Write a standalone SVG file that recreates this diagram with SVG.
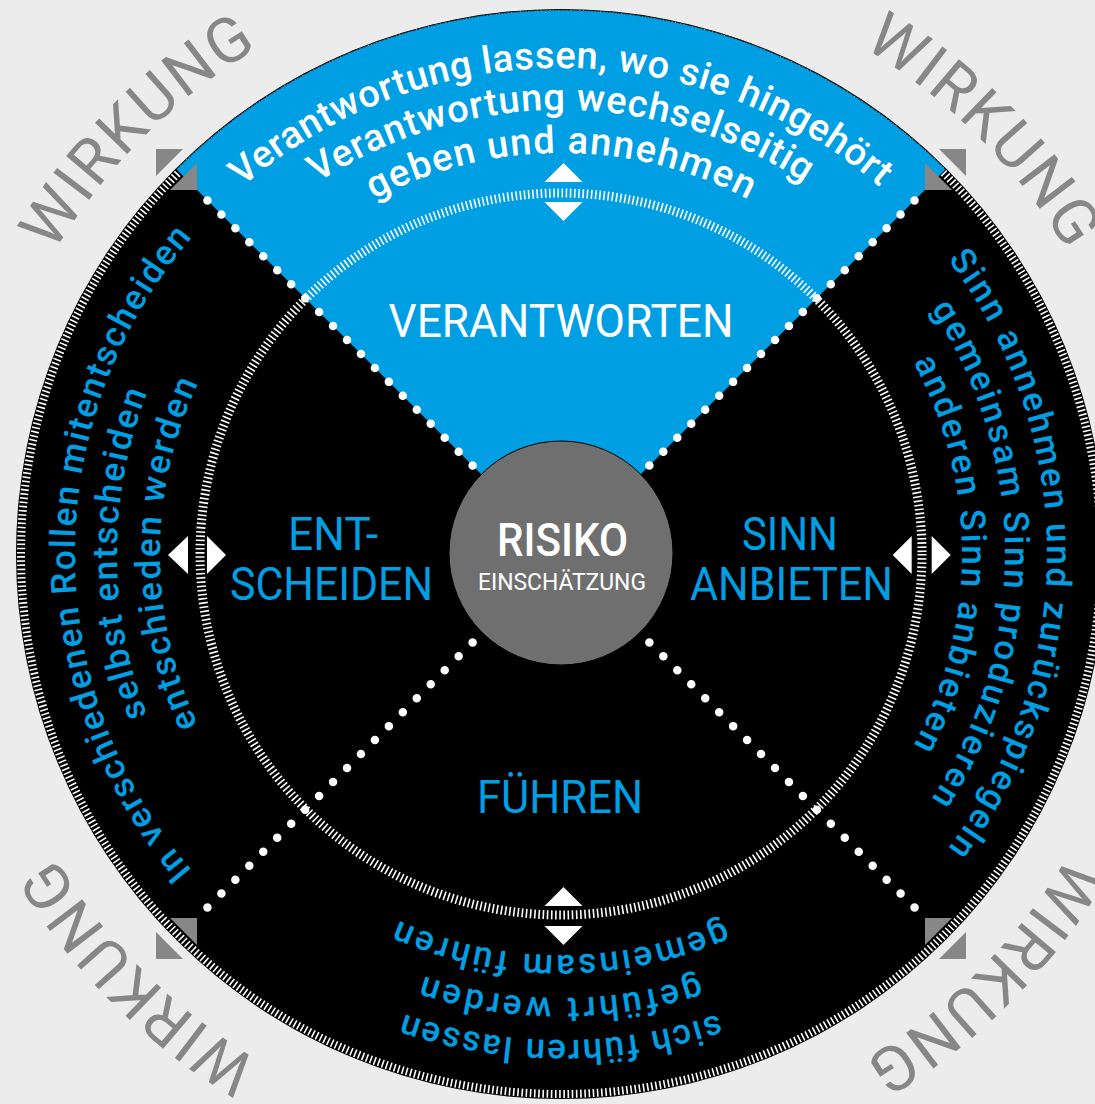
<svg xmlns="http://www.w3.org/2000/svg" width="1095" height="1104" viewBox="0 0 1095 1104">
<style>
.ct{font-family:Roboto,"Noto Sans",sans-serif;text-anchor:middle;font-weight:500}
.w{fill:#ffffff}
.b{fill:#009fe3}
.lbl{font-family:Roboto,"Noto Sans",sans-serif;text-anchor:middle;font-size:46px}
.wirk{font-family:Roboto,"Noto Sans",sans-serif;text-anchor:middle;font-size:63px;fill:#878787;letter-spacing:2px}
.tri{fill:#ffffff}
</style>
<defs>
<path id="r590" d="M561,1144 A590,590 0 1 1 561,-36 A590,590 0 1 1 561,1144"/>
<path id="r486" d="M561,1040 A486,486 0 1 1 561,68 A486,486 0 1 1 561,1040"/>
<path id="r444" d="M561,998 A444,444 0 1 1 561,110 A444,444 0 1 1 561,998"/>
<path id="r401" d="M561,955 A401,401 0 1 1 561,153 A401,401 0 1 1 561,955"/>
<path id="corner" d="M-405,-405 h27 l-27,27 z M-364,-364 v-27 l-27,27 z" fill="#878787"/>
</defs>
<rect width="1095" height="1104" fill="#ececec"/>
<g id="disc">
<circle cx="561" cy="554" r="545" fill="#000"/>
<circle cx="561" cy="554" r="540" fill="none" stroke="#fff" stroke-width="8" stroke-dasharray="1.6 2.6"/>
<path d="M561,554 L176.33,169.33 A544,544 0 0 1 945.67,169.33 Z" fill="#009fe3"/>
<path d="M176.33,169.33 A544,544 0 0 1 945.67,169.33" fill="none" stroke="#1a1a1a" stroke-width="1.2" stroke-dasharray="1.5 1.5"/>
<circle cx="561" cy="554" r="361" fill="none" stroke="#fff" stroke-width="9" stroke-dasharray="1.6 2.6"/>
</g>
<g id="connectors" stroke="#fff" stroke-width="8.5" stroke-linecap="round" stroke-dasharray="0 19.737" fill="none">
<line x1="472.61" y1="465.61" x2="206.9" y2="199.9"/>
<line x1="649.39" y1="465.61" x2="915.1" y2="199.9"/>
<line x1="472.61" y1="642.39" x2="206.9" y2="908.1"/>
<line x1="649.39" y1="642.39" x2="915.1" y2="908.1"/>
</g>
<g id="corners">
<use href="#corner" transform="translate(561 554)"/>
<use href="#corner" transform="translate(561 554) rotate(90)"/>
<use href="#corner" transform="translate(561 554) rotate(180)"/>
<use href="#corner" transform="translate(561 554) rotate(270)"/>
</g>
<g id="arrows" class="tri">
<polygon points="563.5,163 582.5,182 544.5,182"/>
<polygon points="544.5,202 582.5,202 563.5,221"/>
<polygon points="563.5,887 582.5,906 544.5,906"/>
<polygon points="544.5,926 582.5,926 563.5,945"/>
<polygon points="168,555 188,536 188,574"/>
<polygon points="207,536 226,555 207,574"/>
<polygon points="892.7,555 911.7,536 911.7,574"/>
<polygon points="931.7,536 950.7,555 931.7,574"/>
</g>
<g id="wirkung">
<text class="wirk" transform="rotate(-45 561 554)"><textPath href="#r590" startOffset="50%">WIRKUNG</textPath></text>
<text class="wirk" transform="rotate(45 561 554)"><textPath href="#r590" startOffset="50%">WIRKUNG</textPath></text>
<text class="wirk" transform="rotate(135 561 554)"><textPath href="#r590" startOffset="50%">WIRKUNG</textPath></text>
<text class="wirk" transform="rotate(225 561 554)"><textPath href="#r590" startOffset="50%">WIRKUNG</textPath></text>
</g>
<g id="node-verantworten">
<text class="ct w" font-size="38"><textPath href="#r486" startOffset="50%" textLength="695" lengthAdjust="spacing">Verantwortung lassen, wo sie hingehört</textPath></text>
<text class="ct w" font-size="38"><textPath href="#r444" startOffset="50%" textLength="515" lengthAdjust="spacing">Verantwortung wechselseitig</textPath></text>
<text class="ct w" font-size="38"><textPath href="#r401" startOffset="50%" textLength="390" lengthAdjust="spacing">geben und annehmen</textPath></text>
<text class="lbl w" x="561" y="337" textLength="345" lengthAdjust="spacingAndGlyphs">VERANTWORTEN</text>
</g>
<g id="node-entscheiden">
<g transform="rotate(-90 561 554)">
<text class="ct b" font-size="35"><textPath href="#r486" startOffset="50%" textLength="690" lengthAdjust="spacing">In verschiedenen Rollen mitentscheiden</textPath></text>
<text class="ct b" font-size="35"><textPath href="#r444" startOffset="50%" textLength="330" lengthAdjust="spacing">selbst entscheiden</textPath></text>
<text class="ct b" font-size="35"><textPath href="#r401" startOffset="50%" textLength="353" lengthAdjust="spacing">entschieden werden</textPath></text>
</g>
<text class="lbl b" x="333" y="550" textLength="90" lengthAdjust="spacingAndGlyphs">ENT-</text>
<text class="lbl b" x="331.5" y="600" textLength="203" lengthAdjust="spacingAndGlyphs">SCHEIDEN</text>
</g>
<g id="node-sinn">
<g transform="rotate(90 561 554)">
<text class="ct b" font-size="35"><textPath href="#r486" startOffset="50%" textLength="633" lengthAdjust="spacing">Sinn annehmen und zurückspiegeln</textPath></text>
<text class="ct b" font-size="35"><textPath href="#r444" startOffset="50%" textLength="520" lengthAdjust="spacing">gemeinsam Sinn produzieren</textPath></text>
<text class="ct b" font-size="35"><textPath href="#r401" startOffset="50%" textLength="400" lengthAdjust="spacing">anderen Sinn anbieten</textPath></text>
</g>
<text class="lbl b" x="790" y="550" textLength="96" lengthAdjust="spacingAndGlyphs">SINN</text>
<text class="lbl b" x="791.5" y="600" textLength="203" lengthAdjust="spacingAndGlyphs">ANBIETEN</text>
</g>
<g id="node-fuehren">
<g transform="rotate(180 561 554)">
<text class="ct b" font-size="35"><textPath href="#r486" startOffset="50%" textLength="320" lengthAdjust="spacing">sich führen lassen</textPath></text>
<text class="ct b" font-size="35"><textPath href="#r444" startOffset="50%" textLength="280" lengthAdjust="spacing">geführt werden</textPath></text>
<text class="ct b" font-size="35"><textPath href="#r401" startOffset="50%" textLength="335" lengthAdjust="spacing">gemeinsam führen</textPath></text>
</g>
<text class="lbl b" x="560" y="813" textLength="166" lengthAdjust="spacingAndGlyphs">FÜHREN</text>
</g>
<g id="node-risiko">
<circle cx="561" cy="553" r="112" fill="#6f6f6f" stroke="#000" stroke-width="1"/>
<text class="lbl w" x="562.5" y="556" font-size="48" font-weight="500" textLength="131" lengthAdjust="spacingAndGlyphs">RISIKO</text>
<text class="lbl w" x="562" y="590" style="font-size:23px" textLength="168" lengthAdjust="spacingAndGlyphs">EINSCHÄTZUNG</text>
</g>
</svg>
